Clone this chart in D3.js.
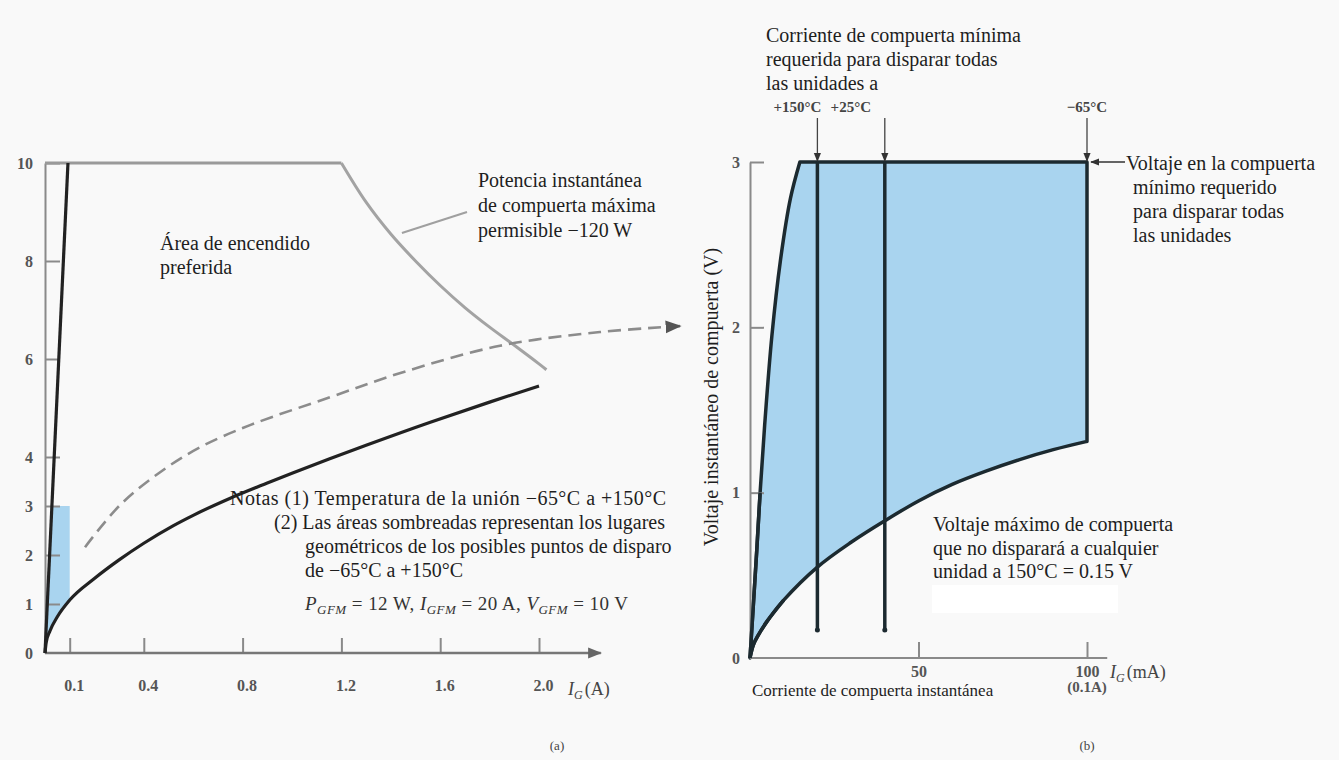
<!DOCTYPE html>
<html><head><meta charset="utf-8">
<script src="https://cdn.jsdelivr.net/npm/d3@7/dist/d3.min.js"></script>
<style>body{margin:0;background:#f9f9f9;} text{font-family:"Liberation Serif","Times New Roman",serif;}</style>
</head><body><svg id="c" width="1339" height="760"></svg>
<script>
// ---------- DATA ----------
// (a) left chart: I_G (A) vs V_G (V)
const leftTicksY = [0,1,2,3,4,6,8,10];
const leftTicksX = [0.1,0.4,0.8,1.2,1.6,2.0];
const steepLineA = [[0,0],[0.093,10]];
const topLineA = [[0,10],[1.2,10]];
const powerCurveA = [[1.2,10],[1.3,9.2],[1.4,8.55],[1.5,8.0],[1.6,7.5],[1.7,7.05],[1.8,6.65],[1.9,6.28],[2.0,5.9],[2.03,5.78]];
const lowerCurveA = [[0,0],[0.005,0.22],[0.02,0.45],[0.05,0.74],[0.1,1.08],[0.2,1.52],[0.3,1.9],[0.4,2.24],[0.52,2.6],[0.6,2.81],[0.75,3.16],[0.9,3.47],[1.0,3.67],[1.15,3.96],[1.3,4.24],[1.56,4.71],[1.8,5.12],[2.0,5.45]];
const shadeTopA = [[0,0],[0.028,3],[0.1,3],[0.1,1.08]];
const dashedArrowA = [[0.162,2.16],[0.304,3.02],[0.466,3.69],[0.628,4.2],[0.83,4.65],[1.154,5.22],[1.449,5.73],[1.842,6.27],[2.247,6.55],[2.571,6.67]];
// (b) right chart: I_G (mA) vs V_G (V)
const rightTicksY = [0,1,2,3];
const rightTicksX = [50,100];
const leftBoundB = [[0,0],[2,0.65],[3,1.0],[4.5,1.45],[6.5,1.95],[9,2.4],[12,2.78],[14.8,3.0]];
const bottomCurveB = [[0,0],[1,0.08],[2.5,0.14],[5,0.22],[10,0.35],[20,0.55],[30,0.7],[40,0.83],[50,0.95],[60,1.05],[70,1.13],[80,1.2],[90,1.26],[100,1.31]];
const tempCurrentsB = [20,40,100];
const tempLabelsB = ["+150°C","+25°C","−65°C"];
const tempLinesBottomB = 0.17;

// ---------- SETUP ----------
const svg = d3.select("#c");
svg.append("rect").attr("width",1339).attr("height",760).attr("fill","#f9f9f9");
const defs = svg.append("defs");
function marker(id,color,size){
  defs.append("marker").attr("id",id).attr("viewBox","0 0 10 10").attr("refX",9).attr("refY",5)
   .attr("markerWidth",size).attr("markerHeight",size).attr("orient","auto-start-reverse")
   .attr("markerUnits","userSpaceOnUse")
   .append("path").attr("d","M0,1 L10,5 L0,9 Z").attr("fill",color);
}
marker("arrG","#666",14);
marker("arrD","#555",16);
marker("arrK","#333",9);

const xL = d3.scaleLinear().domain([0,2]).range([45,539]);
const yL = d3.scaleLinear().domain([0,10]).range([653,163]);
const xR = d3.scaleLinear().domain([0,100]).range([750,1087]);
const yR = d3.scaleLinear().domain([0,3]).range([658,162]);

const lineL = d3.line().x(d=>xL(d[0])).y(d=>yL(d[1]));
const curveL = d3.line().x(d=>xL(d[0])).y(d=>yL(d[1])).curve(d3.curveCatmullRom);
const monoL = d3.line().x(d=>xL(d[0])).y(d=>yL(d[1])).curve(d3.curveMonotoneX);
const BLUE = "#a9d4ef", DARK = "#1c2a30";

function txt(g,x,y,s,opts={}){
  const t=g.append("text").attr("x",x).attr("y",y).attr("font-size",opts.size||20).attr("fill",opts.fill||"#1e1e1e")
    .attr("text-anchor",opts.anchor||"start").text(s);
  if(opts.weight) t.attr("font-weight",opts.weight);
  return t;
}

// ---------- LEFT CHART ----------
const gL = svg.append("g");
const shadePts = shadeTopA.concat(lowerCurveA.filter(d=>d[0]<0.1).reverse());
gL.append("path").attr("d", lineL(shadePts)+"Z").attr("fill",BLUE);

const axYL = d3.axisLeft(yL).tickValues(leftTicksY).tickSize(-15).tickSizeOuter(0).tickPadding(12).tickFormat(d3.format("d"));
const gy = gL.append("g").attr("transform",`translate(${xL(0)},0)`).call(axYL);
gy.select(".domain").attr("stroke","#8a8a8a").attr("stroke-width",2);
gy.selectAll(".tick line").attr("stroke","#8a8a8a").attr("stroke-width",2);
gy.selectAll(".tick").filter(d=>d===0).select("line").remove();
gy.selectAll("text").attr("font-size",16).attr("fill","#555").attr("font-weight","bold").attr("font-family","Liberation Serif");

const axXL = d3.axisBottom(xL).tickValues(leftTicksX).tickSize(-15).tickSizeOuter(0).tickPadding(27).tickFormat(d3.format(".1f"));
const gx = gL.append("g").attr("transform",`translate(0,${yL(0)})`).call(axXL);
gx.select(".domain").remove();
gx.selectAll(".tick line").attr("stroke","#8a8a8a").attr("stroke-width",2);
gx.selectAll("text").attr("font-size",16).attr("fill","#555").attr("font-weight","bold").attr("dx",4);
gL.append("line").attr("x1",xL(0)).attr("x2",xL(2.25)).attr("y1",yL(0)).attr("y2",yL(0))
  .attr("stroke","#777").attr("stroke-width",2.5).attr("marker-end","url(#arrG)");

gL.append("path").attr("d",lineL(topLineA)).attr("fill","none").attr("stroke","#9a9a9a").attr("stroke-width",3);
gL.append("path").attr("d",curveL(powerCurveA)).attr("fill","none").attr("stroke","#a3a3a3").attr("stroke-width",3);
gL.append("path").attr("d",lineL(steepLineA)).attr("fill","none").attr("stroke","#222").attr("stroke-width",3.2);
gL.append("path").attr("d",monoL(lowerCurveA)).attr("fill","none").attr("stroke","#222").attr("stroke-width",3.2);
gL.append("path").attr("d",curveL(dashedArrowA))
  .attr("fill","none").attr("stroke","#8c8c8c").attr("stroke-width",2.6).attr("stroke-dasharray","13,7")
  .attr("marker-end","url(#arrD)");
gL.append("line").attr("x1",xL(1.445)).attr("y1",yL(8.57)).attr("x2",467).attr("y2",212)
  .attr("stroke","#a0a0a0").attr("stroke-width",2.2);

txt(gL,160,250,"Área de encendido");
txt(gL,160,274,"preferida");
txt(gL,478,187,"Potencia instantánea");
txt(gL,478,212,"de compuerta máxima");
txt(gL,478,237,"permisible −120 W");
txt(gL,230,505,"Notas (1) Temperatura de la unión −65°C a +150°C").attr("textLength",436).attr("lengthAdjust","spacing");
txt(gL,274,529,"(2) Las áreas sombreadas representan los lugares");
txt(gL,305,553,"geométricos de los posibles puntos de disparo");
txt(gL,305,577,"de −65°C a +150°C");
const pg = gL.append("text").attr("x",305).attr("y",610).attr("font-size",19).attr("fill","#333");
const pgParts = [["P","i"],["GFM","s"],[" = 12 W, ","n"],["I","i"],["GFM","s"],[" = 20 A, ","n"],["V","i"],["GFM","s"],[" = 10 V","n"]];
let sub=false;
pgParts.forEach(([s,k])=>{
  const ts=pg.append("tspan").text(s);
  if(k==="s"){ ts.attr("font-style","italic").attr("font-size",13).attr("dy",4); sub=true; }
  else { if(sub){ ts.attr("dy",-4); sub=false; } if(k==="i") ts.attr("font-style","italic"); }
});
pg.attr("textLength",323).attr("lengthAdjust","spacing");
const igA = gL.append("text").attr("x",568).attr("y",695).attr("font-size",18).attr("fill","#444");
igA.append("tspan").text("I").attr("font-style","italic");
igA.append("tspan").text("G").attr("font-style","italic").attr("font-size",12).attr("dy",4);
igA.append("tspan").text("(A)").attr("dy",-4).attr("dx",2);
txt(gL,557,750,"(a)",{size:13,anchor:"middle",fill:"#444"});

// ---------- RIGHT CHART ----------
const gR = svg.append("g");
const lc = d3.line().x(d=>xR(d[0])).y(d=>yR(d[1])).curve(d3.curveCatmullRom);
const pathB = lc(leftBoundB) + "L" + xR(100) + "," + yR(3) + "L" + xR(100) + "," + yR(bottomCurveB[bottomCurveB.length-1][1])
   + lc(bottomCurveB.slice().reverse()).replace(/^M/,"L") + "Z";
gR.append("path").attr("d",pathB).attr("fill",BLUE).attr("stroke",DARK).attr("stroke-width",3.5).attr("stroke-linejoin","round");

const axYR = d3.axisLeft(yR).tickValues(rightTicksY).tickSize(-14).tickSizeOuter(0).tickPadding(10).tickFormat(d3.format("d"));
const gyr = gR.append("g").attr("transform",`translate(${xR(0)},0)`).call(axYR);
gyr.select(".domain").attr("stroke","#8a8a8a").attr("stroke-width",2);
gyr.selectAll(".tick line").attr("stroke","#8a8a8a").attr("stroke-width",2);
gyr.selectAll(".tick").filter(d=>d===0).select("line").remove();
gyr.selectAll("text").attr("font-size",16).attr("fill","#555").attr("font-weight","bold");
const axXR = d3.axisBottom(xR).tickValues(rightTicksX).tickSize(-16).tickSizeOuter(0).tickPadding(8).tickFormat(d3.format("d"));
const gxr = gR.append("g").attr("transform",`translate(0,${yR(0)})`).call(axXR);
gxr.select(".domain").remove();
gxr.selectAll(".tick line").attr("stroke","#8a8a8a").attr("stroke-width",2);
gxr.selectAll("text").attr("font-size",16).attr("fill","#555").attr("font-weight","bold");
gR.append("line").attr("x1",xR(0)).attr("x2",xR(106)).attr("y1",yR(0)).attr("y2",yR(0)).attr("stroke","#8a8a8a").attr("stroke-width",2);
gR.append("path").attr("d",lc(leftBoundB.slice(0,3))).attr("fill","none").attr("stroke",DARK).attr("stroke-width",3.5);
gR.append("path").attr("d",lc(bottomCurveB.slice(0,5))).attr("fill","none").attr("stroke",DARK).attr("stroke-width",3.5);

tempCurrentsB.forEach((c,i)=>{
  if(c<100){
    gR.append("line").attr("x1",xR(c)).attr("x2",xR(c)).attr("y1",yR(3)).attr("y2",yR(tempLinesBottomB))
      .attr("stroke",DARK).attr("stroke-width",3.5);
    gR.append("circle").attr("cx",xR(c)).attr("cy",yR(tempLinesBottomB)).attr("r",2.5).attr("fill",DARK);
  }
  gR.append("line").attr("x1",xR(c)).attr("x2",xR(c)).attr("y1",118).attr("y2",yR(3)-1)
    .attr("stroke","#444").attr("stroke-width",1.3).attr("marker-end","url(#arrK)");
});
const tempLabelX = [xR(20)-20, xR(40)-34, xR(100)];
tempLabelsB.forEach((s,i)=>txt(gR,tempLabelX[i],112,s,{size:15,anchor:"middle",fill:"#444",weight:"bold"}));

gR.append("line").attr("x1",1125).attr("x2",xR(100)+4).attr("y1",yR(3)).attr("y2",yR(3))
  .attr("stroke","#333").attr("stroke-width",1.3).attr("marker-end","url(#arrK)");

txt(gR,766,42,"Corriente de compuerta mínima");
txt(gR,766,66,"requerida para disparar todas");
txt(gR,766,90,"las unidades a");
txt(gR,1126,170,"Voltaje en la compuerta");
txt(gR,1133,194,"mínimo requerido");
txt(gR,1133,218,"para disparar todas");
txt(gR,1133,242,"las unidades");
txt(gR,933,531,"Voltaje máximo de compuerta");
txt(gR,933,555,"que no disparará a cualquier");
txt(gR,933,578,"unidad a 150°C = 0.15 V");
gR.append("rect").attr("x",932).attr("y",585).attr("width",186).attr("height",28).attr("fill","#ffffff");
txt(gR,0,0,"Voltaje instantáneo de compuerta (V)",{anchor:"middle"}).attr("transform","translate(718,397) rotate(-90)");
txt(gR,xR(100),692,"(0.1A)",{size:15,anchor:"middle",fill:"#555",weight:"bold"});
const igB = gR.append("text").attr("x",1110).attr("y",678).attr("font-size",18).attr("fill","#444");
igB.append("tspan").text("I").attr("font-style","italic");
igB.append("tspan").text("G").attr("font-style","italic").attr("font-size",12).attr("dy",4);
igB.append("tspan").text("(mA)").attr("dy",-4).attr("dx",2);
txt(gR,752,696,"Corriente de compuerta instantánea",{size:17});
txt(gR,1087,750,"(b)",{size:13,anchor:"middle",fill:"#444"});
</script></body></html>
